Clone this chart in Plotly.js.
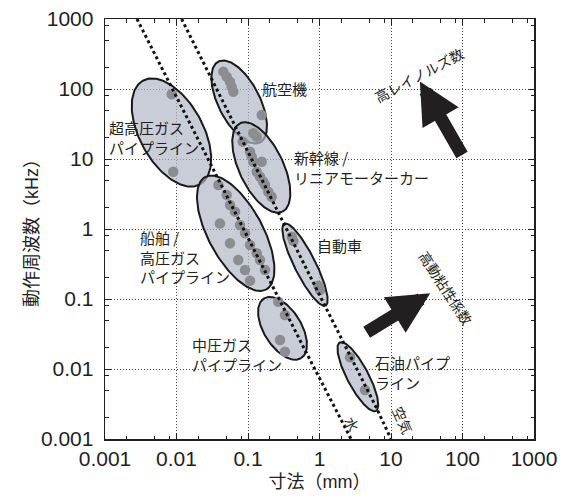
<!DOCTYPE html>
<html><head><meta charset="utf-8">
<script src="https://cdn.plot.ly/plotly-3.0.1.min.js"></script>
<style>html,body{margin:0;padding:0;background:#fff}#chart{width:567px;height:500px}</style>
</head><body><div id="chart"></div>
<script>
// ---- axis ticks ----
const xTickVals = [0.001, 0.01, 0.1, 1, 10, 100, 1000];
const xTickText = ['0.001', '0.01', '0.1', '1', '10', '100', '1000'];
const yTickVals = [0.001, 0.01, 0.1, 1, 10, 100, 1000];
const yTickText = ['0.001', '0.01', '0.1', '1', '10', '100', '1000'];
const minorMantissas = [2, 5, 8];

// ---- application regions (ellipses in log-log space) ----
const regionNames = ['超高圧ガスパイプライン', '航空機', '新幹線/リニアモーターカー', '船舶/高圧ガスパイプライン', '自動車', '中圧ガスパイプライン', '石油パイプライン'];
const regionCenterMm = [0.0085, 0.0753, 0.1535, 0.0673, 0.627, 0.304, 3.44];
const regionCenterKHz = [23.9, 65.2, 7.57, 0.869, 0.309, 0.0381, 0.00776];
const regionMajorDecades = [0.841, 0.647, 0.698, 0.909, 0.652, 0.499, 0.550];
const regionMinorDecades = [0.445, 0.291, 0.310, 0.383, 0.148, 0.263, 0.150];
const regionTiltDeg = [62.2, 63.5, 65.2, 62.3, 63.8, 59, 62.7];

// ---- measured points (grey dots) ----
const ultraHighMm = [0.00857, 0.00901];
const ultraHighKHz = [84, 6.59];
const aircraftMm = [0.0452, 0.0504, 0.056, 0.0591, 0.0623, 0.1556];
const aircraftKHz = [177, 150, 127, 108, 91.4, 42.5];
const shinkansenMm = [0.1186, 0.1324, 0.0843, 0.1067, 0.1127, 0.1186, 0.1556, 0.1324, 0.1473, 0.1637, 0.173, 0.1923, 0.2143];
const shinkansenKHz = [23.3, 20.8, 17.7, 12.7, 10.8, 9.15, 9.15, 6.59, 5.58, 4.74, 4.25, 3.41, 2.89];
const shipMm = [0.0385, 0.0504, 0.056, 0.0658, 0.0773, 0.0908, 0.1067, 0.1324, 0.1473, 0.173, 0.0405, 0.056, 0.0731, 0.0908, 0.1067];
const shipKHz = [4.25, 3.06, 2.2, 1.77, 1.14, 0.869, 0.59, 0.45, 0.36, 0.26, 1.2, 0.625, 0.36, 0.26, 0.182];
const carMm = [0.408, 0.431, 0.962, 1.016];
const carKHz = [0.776, 0.674, 0.155, 0.1345];
const midGasMm = [0.2655, 0.329, 0.2805, 0.329];
const midGasKHz = [0.0914, 0.059, 0.026, 0.0177];
const oilMm = [2.67, 4.33];
const oilKHz = [0.0147, 0.005];

// ---- reference lines (dotted) ----
const waterMm = [0.0028, 0.039, 0.22, 0.593, 2.76];
const waterKHz = [1000, 5, 0.16, 0.0208, 0.001];
const airMm = [0.0118, 0.0626, 0.255, 1.12, 6.17, 10];
const airKHz = [1000, 32.4, 1.87, 0.0906, 0.00287, 0.001];

const INK = '#231f20';
const JP = 'Noto Sans CJK JP, Noto Sans, sans-serif';
const NUM = 'Liberation Sans, Arial, Noto Sans CJK JP, sans-serif';

function ellipse(i) {
  const cx = Math.log10(regionCenterMm[i]), cy = Math.log10(regionCenterKHz[i]);
  const a = regionMajorDecades[i], b = regionMinorDecades[i];
  const th = regionTiltDeg[i] * Math.PI / 180;
  const xs = [], ys = [];
  for (let k = 0; k <= 160; k++) {
    const t = 2 * Math.PI * k / 160;
    const dx = a * Math.cos(t) * Math.cos(th) - b * Math.sin(t) * Math.sin(th);
    const dy = -(a * Math.cos(t) * Math.sin(th) + b * Math.sin(t) * Math.cos(th));
    xs.push(Math.pow(10, cx + dx));
    ys.push(Math.pow(10, cy + dy));
  }
  return {x: xs, y: ys};
}

const traces = [];
regionNames.forEach((n, i) => {
  const e = ellipse(i);
  traces.push({type: 'scatter', mode: 'lines', x: e.x, y: e.y, name: n,
    fill: 'toself', fillcolor: 'rgba(178,184,198,0.70)',
    line: {color: '#1a1a1a', width: 2}, hoverinfo: 'skip'});
});
const dotX = [].concat(ultraHighMm, aircraftMm, shinkansenMm, shipMm, carMm, midGasMm, oilMm);
const dotY = [].concat(ultraHighKHz, aircraftKHz, shinkansenKHz, shipKHz, carKHz, midGasKHz, oilKHz);
traces.push({type: 'scatter', mode: 'markers', x: dotX, y: dotY,
  marker: {size: 10.5, color: '#8c8d90', line: {width: 0}}});
traces.push({type: 'scatter', mode: 'lines', x: waterMm, y: waterKHz, name: '水',
  line: {color: '#111', width: 3, dash: 'dot'}});
traces.push({type: 'scatter', mode: 'lines', x: airMm, y: airKHz, name: '空気',
  line: {color: '#111', width: 3, dash: 'dot'}});

function minorVals() {
  const v = [];
  for (let e = -3; e < 3; e++) minorMantissas.forEach(m => v.push(m * Math.pow(10, e)));
  return v;
}

const axisCommon = {
  type: 'log', range: [-3, 3], tickmode: 'array',
  ticks: 'inside', ticklen: 6, tickwidth: 1, tickcolor: INK,
  mirror: 'allticks', showline: true, linecolor: INK, linewidth: 1.5,
  showgrid: true, gridcolor: '#444', griddash: '1px,2px', gridwidth: 1,
  zeroline: false, tickfont: {size: 21, family: NUM, color: INK},
  minor: {tickmode: 'array', tickvals: minorVals(), ticks: 'inside', ticklen: 3.5, tickwidth: 1, tickcolor: INK, showgrid: false}
};

function lab(text, lx, ly, extra) {
  return Object.assign({xref: 'x', yref: 'y', x: lx, y: ly, text: text, showarrow: false,
    xanchor: 'left', yanchor: 'middle', align: 'left',
    font: {family: JP, size: 15, color: INK}}, extra || {});
}

const annotations = [
  lab('航空機', -0.832, 2.01),
  lab('超高圧ガス<br>パイプライン', -2.968, 1.303),
  lab('新幹線 /<br>リニアモーターカー', -0.389, 0.874),
  lab('船舶 /<br>高圧ガス<br>パイプライン', -2.534, -0.407),
  lab('自動車', -0.063, -0.229),
  lab('中圧ガス<br>パイプライン', -1.811, -1.789),
  lab('石油パイプ<br>ライン', 0.753, -2.05),
  lab('高レイノルズ数', 1.39, 2.2, {xanchor: 'center', textangle: -28, font: {family: JP, size: 14, color: INK}}),
  lab('高動粘性係数', 1.769, -0.843, {xanchor: 'center', textangle: 57, font: {family: JP, size: 14, color: INK}}),
  lab('水', 0.455, -2.786, {xanchor: 'center', textangle: 63, font: {family: JP, size: 14, color: INK}}),
  lab('空気', 1.168, -2.729, {xanchor: 'center', textangle: 66, font: {family: JP, size: 14, color: INK}}),
  {xref: 'paper', yref: 'paper', x: -0.17, y: 0.5, text: '動作周波数（kHz）', showarrow: false,
    textangle: -90, xanchor: 'center', yanchor: 'middle', font: {family: NUM, size: 18, color: INK}},
  {xref: 'paper', yref: 'paper', x: 0.734, y: 0.851, ax: 43, ay: 75, text: '', showarrow: true,
    arrowhead: 2, arrowsize: 0.64, arrowwidth: 13, arrowcolor: INK, standoff: 0},
  {xref: 'paper', yref: 'paper', x: 0.758, y: 0.347, ax: -65, ay: 40, text: '', showarrow: true,
    arrowhead: 2, arrowsize: 0.64, arrowwidth: 13, arrowcolor: INK, standoff: 0}
];

const layout = {
  width: 567, height: 500,
  margin: {l: 105, r: 33, t: 19, b: 61},
  paper_bgcolor: '#fff', plot_bgcolor: '#fff', showlegend: false,
  font: {family: NUM, color: INK},
  xaxis: Object.assign({}, axisCommon, {tickvals: xTickVals, ticktext: xTickText,
    title: {text: '寸法（mm）', font: {size: 18, family: NUM, color: INK}, standoff: 6}}),
  yaxis: Object.assign({}, axisCommon, {tickvals: yTickVals,
    ticktext: yTickText.map(t => t + '\u00a0')}),
  annotations: annotations
};

Plotly.newPlot('chart', traces, layout, {displayModeBar: false, staticPlot: true});
</script>
</body></html>
